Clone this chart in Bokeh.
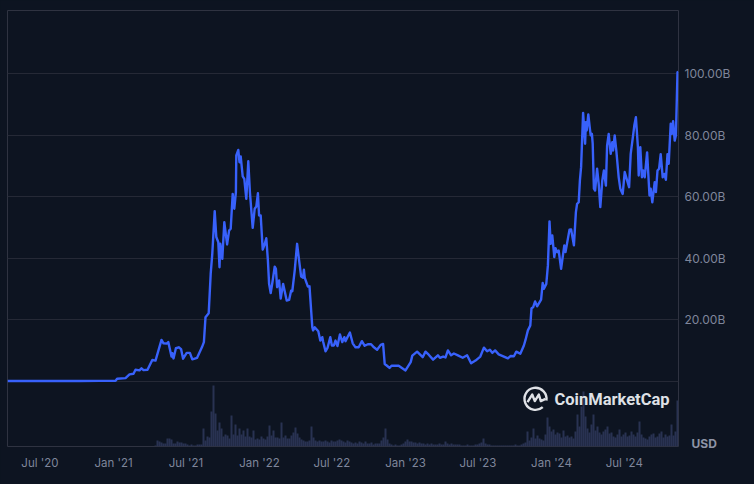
from bokeh.plotting import figure
from bokeh.models import Range1d, FixedTicker, Label, LinearAxis
from bokeh.embed import file_html
from bokeh.resources import INLINE

# days since 2020-07-01 and market cap in billions of USD
days = [-80, 100, 152, 190, 194, 215, 225, 235, 240, 250, 255, 260, 270, 282, 290, 305, 310, 318, 322, 330, 332, 335,
        341, 348, 354, 359, 368, 376, 382, 394, 406, 411, 415, 423, 428, 432, 438, 442, 447, 450, 452, 457,
        462, 469, 474, 478, 483, 487, 491, 492, 497, 500, 503, 508, 512, 517, 522, 526, 533, 538, 542, 546,
        549, 553, 558, 562, 567, 571, 574, 578, 583, 588, 591, 594, 599, 603, 609, 618, 624, 629, 632, 638,
        644, 649, 654, 659, 661, 663, 671, 675, 682, 684, 688, 697, 702, 707, 709, 715, 720, 727, 731, 736,
        740, 745, 751, 757, 762, 765, 770, 776, 783, 790, 798, 806, 813, 821, 829, 836, 844, 853, 859, 863,
        868, 875, 880, 898, 915, 928, 932, 944, 958, 965, 973, 984, 996, 1001, 1009, 1015, 1021, 1029, 1036,
        1046, 1058, 1069, 1079, 1090, 1102, 1111, 1119, 1126, 1132, 1139, 1148, 1161, 1171, 1178, 1186, 1192,
        1202, 1211, 1215, 1221, 1227, 1228, 1230, 1234, 1239, 1244, 1254, 1258, 1261, 1267, 1271, 1275, 1278,
        1282, 1287, 1290, 1294, 1298, 1304, 1312, 1315, 1325, 1329, 1336, 1341, 1344, 1348, 1351, 1354, 1359,
        1364, 1366, 1368, 1372, 1376, 1378, 1381, 1383, 1386, 1389, 1394, 1398, 1402, 1407, 1411, 1416, 1419,
        1423, 1428, 1432, 1434, 1438, 1442, 1448, 1452, 1458, 1463, 1469, 1474, 1478, 1484, 1487, 1491, 1496,
        1498, 1502, 1506, 1509, 1513, 1519, 1525, 1528, 1532, 1538, 1541, 1545, 1549, 1553, 1558, 1562, 1566,
        1570, 1573, 1578, 1581, 1584, 1588, 1591, 1595, 1597]
market_cap = [0.15, 0.15, 0.2, 0.2, 0.9, 1.1, 2.3, 2.5, 3.8, 3.6, 4.3, 3.7, 3.8, 7.0, 6.8, 13.5, 12.4, 12.3, 12.8, 8.1, 9.2, 7.5,
              10.8, 11.1, 10.5, 7.4, 9.3, 9.3, 7.2, 7.7, 11.1, 12.8, 20.9, 22.2, 35.0, 41.5, 55.3, 46.9, 45.2, 37.1, 44.7, 39.8,
              51.7, 44.5, 49.0, 49.6, 60.9, 56.1, 61.5, 73.4, 75.2, 71.2, 73.1, 66.6, 65.8, 59.3, 71.5, 61.5, 49.9, 56.1, 56.8, 61.1,
              53.9, 53.9, 42.8, 44.2, 46.5, 39.3, 31.7, 28.7, 32.8, 37.3, 36.6, 30.6, 32.8, 26.9, 31.7, 26.3, 26.5, 29.5, 29.3, 36.0,
              44.7, 39.3, 34.1, 33.7, 36.3, 33.7, 30.8, 30.9, 17.6, 16.6, 17.6, 16.3, 13.3, 14.4, 13.0, 9.8, 10.9, 14.4, 11.7, 11.7,
              13.3, 11.5, 15.3, 12.8, 14.4, 13.1, 14.4, 15.9, 12.4, 11.1, 11.1, 13.1, 11.6, 12.1, 12.1, 11.1, 10.3, 11.9, 12.2, 5.7,
              5.2, 4.4, 5.1, 5.1, 3.6, 6.3, 8.4, 9.7, 7.9, 9.7, 8.7, 7.1, 8.5, 7.7, 8.1, 7.8, 10.1, 8.5, 9.1,
              8.5, 7.7, 8.5, 5.9, 6.8, 8.1, 11.0, 9.8, 10.3, 9.3, 10.1, 8.8, 8.1, 7.5, 8.3, 8.2, 9.7,
              9.0, 11.7, 13.5, 16.6, 18.2, 20.0, 23.8, 24.1, 26.0, 24.4, 26.6, 32.0, 30.1, 31.7, 37.7, 52.0, 44.7,
              47.4, 40.4, 43.3, 42.0, 42.5, 36.6, 44.2, 42.0, 49.3, 49.4, 44.2, 55.0, 57.7, 58.2, 65.3, 69.6, 87.2,
              77.2, 84.2, 81.5, 86.7, 82.0, 79.9, 80.4, 77.2, 62.6, 62.0, 69.1, 64.2, 56.6, 65.3, 68.5, 63.6, 76.6,
              80.4, 73.9, 77.7, 75.0, 79.9, 75.0, 66.3, 62.6, 60.9, 68.0, 65.3, 63.1, 73.9, 79.9, 83.1, 85.8, 76.1,
              66.9, 76.1, 66.3, 68.5, 66.3, 74.4, 60.4, 62.6, 58.2, 64.7, 61.5, 68.5, 69.1, 73.8, 66.3, 67.4, 65.5,
              73.8, 70.7, 83.7, 80.4, 84.5, 78.2, 79.9, 100.4, 100.6]

# traded volume in hundreds of millions of USD, one bar per five days from day 290
volume = [1, 6, 5, 4, 3, 3, 8, 8, 7, 3, 3, 5, 4, 4, 3, 3, 2, 1, 2, 1, 1, 2, 2, 2, 18, 6, 10, 9, 35, 61, 33, 16, 24, 18, 10, 12, 11, 8,
          31, 12, 22, 11, 18, 12, 16, 10, 18, 10, 9, 16, 7, 8, 7, 10, 8, 7, 10, 21, 11, 16, 9, 9, 8, 24, 9, 11, 8, 8, 11, 14, 19, 13, 9, 7,
          6, 5, 5, 6, 20, 9, 6, 5, 6, 5, 5, 6, 5, 4, 6, 5, 5, 6, 7, 6, 5, 4, 6, 5, 4, 3, 4, 3, 5, 4, 3, 5, 3, 3, 4, 2, 3, 3, 3, 6, 9, 18, 7,
          3, 2, 1, 2, 1, 1, 2, 3, 5, 7, 5, 5, 4, 4, 3, 4, 3, 3, 2, 3, 2, 3, 2, 2, 2, 3, 2, 2, 5, 3, 2, 3, 2, 2, 2, 2, 1, 1, 1, 2, 1, 1, 1,
          2, 2, 3, 4, 8, 3, 2, 2, 1, 1, 1, 1, 1, 1, 1, 1, 1, 1, 1, 1, 2, 1, 1, 2, 3, 4, 15, 6, 9, 18, 8, 11, 8, 7, 6, 12, 29, 20, 15, 17, 12,
          14, 13, 9, 16, 10, 11, 9, 10, 8, 15, 32, 20, 40, 55, 30, 18, 14, 22, 32, 16, 20, 14, 12, 15, 17, 20, 13, 14, 10, 9, 12, 17, 10,
          12, 14, 10, 11, 15, 12, 10, 14, 25, 12, 9, 8, 7, 10, 12, 13, 9, 10, 13, 15, 9, 12, 10, 11, 22, 11, 15, 46]
volume_first_day = 290
volume_step = 5

x_tick_days = [1, 185, 366, 550, 731, 915, 1096, 1280, 1462]
x_tick_labels = ["Jul '20", "Jan '21", "Jul '21", "Jan '22", "Jul '22", "Jan '23", "Jul '23", "Jan '24", "Jul '24"]
y_ticks = [20, 40, 60, 80, 100]
y_tick_labels = ["20.00B", "40.00B", "60.00B", "80.00B", "100.00B"]
currency_tick = -20.0
currency_label = "USD"

BG = "#0d1421"
GRID = "#252936"
FRAME = "#2f3341"
TEXT = "#7f869b"
LOGO = "#dfe1e6"
FONT = "Inter"

p = figure(width=754, height=484, output_backend="svg", toolbar_location=None,
           x_range=Range1d(-80, 1597.5), y_range=Range1d(-21.1, 120.45),
           min_border_left=7, min_border_right=76, min_border_top=10, min_border_bottom=38,
           background_fill_color=BG, border_fill_color=BG, outline_line_color=FRAME,
           outline_line_width=1, y_axis_location="right")
p.extra_y_ranges = {"vol": Range1d(0, 436)}

p.xaxis.ticker = FixedTicker(ticks=x_tick_days)
p.xaxis.major_label_overrides = dict(zip(x_tick_days, x_tick_labels))
p.yaxis.ticker = FixedTicker(ticks=y_ticks)
p.yaxis.major_label_overrides = dict(zip(y_ticks, y_tick_labels))
for ax in (p.xaxis, p.yaxis):
    ax.axis_line_color = None
    ax.major_tick_line_color = None
    ax.minor_tick_line_color = None
    ax.major_label_text_color = TEXT
    ax.major_label_text_font = FONT
p.xaxis.major_label_text_font_size = "11.5px"
p.yaxis.major_label_text_font_size = "12px"
p.xaxis.major_label_standoff = 3
p.yaxis.major_label_standoff = 0

usd_axis = LinearAxis(ticker=FixedTicker(ticks=[currency_tick]),
                      major_label_overrides={currency_tick: currency_label},
                      axis_line_color=None, major_tick_line_color=None, minor_tick_line_color=None,
                      major_label_text_color="#8e94a6", major_label_text_font=FONT,
                      major_label_text_font_size="12px", major_label_text_font_style="bold",
                      major_label_standoff=-48)
p.add_layout(usd_axis, "right")

p.xgrid.visible = False
p.ygrid.ticker = FixedTicker(ticks=[0] + y_ticks)
p.ygrid.grid_line_color = GRID

vol_x = [volume_first_day + i * volume_step for i in range(len(volume))]
p.vbar(x=vol_x, top=volume, bottom=0, width=volume_step, y_range_name="vol",
       fill_color="#293252", line_color=None)
p.line(days, market_cap, line_color="#3861fb", line_width=2.4, line_join="round")

# CoinMarketCap mark: positions relative to the mark's centre, in pixels of the frame
def mx(dx):
    return 1240 + dx * 2.5
def my(dy):
    return (381 - 398.3 - dy) / 3.08
p.arc(x=[mx(0)], y=[my(0)], radius=11, radius_units="screen", start_angle=-0.15,
      end_angle=-0.85, direction="anticlock", line_color=LOGO, line_width=2.4)
zig_dx = [-8, -3.3, -0.7, 3.3, 5.3, 10]
zig_dy = [3.3, -4.3, 2.3, -4.3, 2.3, 0]
p.line([mx(v) for v in zig_dx], [my(v) for v in zig_dy], line_color=LOGO, line_width=2.4, line_join="round")
p.add_layout(Label(x=(554 - 39) * 2.5, y=(381 - 399.3) / 3.08, text="CoinMarketCap", text_color=LOGO,
                   text_font="Roboto", text_font_size="16.5px", text_font_style="bold", text_baseline="middle"))

html = file_html(p, INLINE)
html = html.replace("<body>", f'<body style="margin:0;background:{BG};overflow:hidden">')
open("out.html", "w").write(html)
